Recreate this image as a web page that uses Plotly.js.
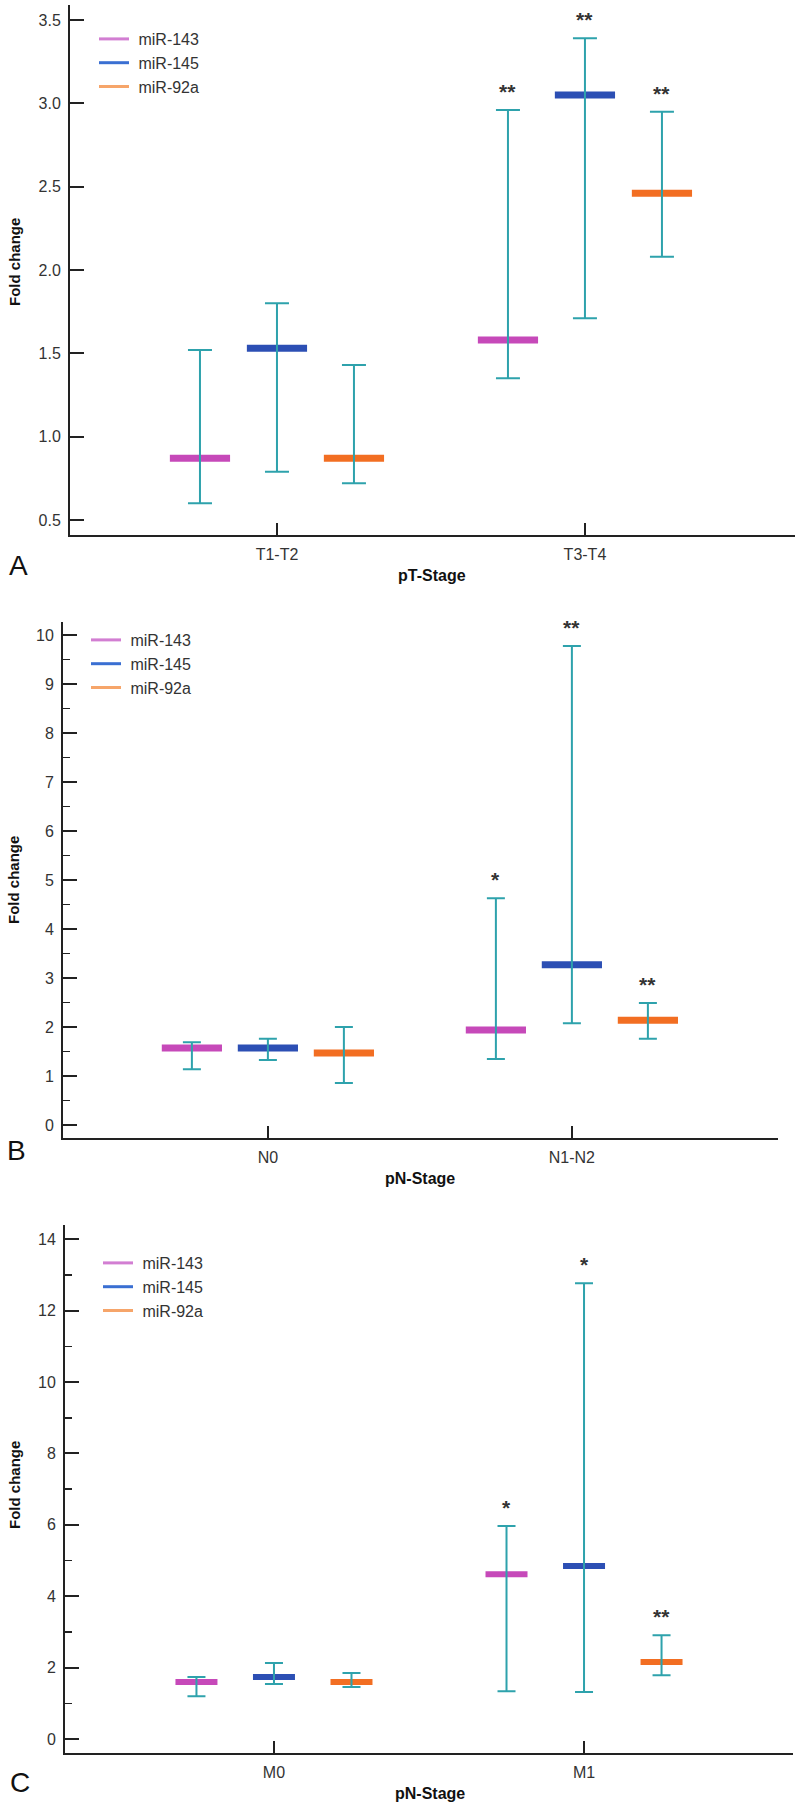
<!DOCTYPE html>
<html>
<head>
<meta charset="utf-8">
<script src="https://cdn.plot.ly/plotly-3.0.1.min.js"></script>
<style>html,body{margin:0;padding:0;background:#fff;}#chart{width:800px;height:1808px;}</style>
</head>
<body>
<div id="chart"></div>
<script>
// ---------- DATA ----------
const seriesNames = ['miR-143', 'miR-145', 'miR-92a'];

const categoriesA = ['T1-T2', 'T3-T4'];
const medianA = [[0.87, 1.58], [1.53, 3.05], [0.87, 2.46]];
const lowA    = [[0.60, 1.35], [0.79, 1.71], [0.72, 2.08]];
const highA   = [[1.52, 2.96], [1.80, 3.39], [1.43, 2.95]];
const sigA    = [['', '**'], ['', '**'], ['', '**']];

const categoriesB = ['N0', 'N1-N2'];
const medianB = [[1.57, 1.94], [1.57, 3.27], [1.47, 2.14]];
const lowB    = [[1.14, 1.35], [1.33, 2.08], [0.86, 1.76]];
const highB   = [[1.69, 4.63], [1.76, 9.78], [2.00, 2.49]];
const sigB    = [['', '*'], ['', '**'], ['', '**']];

const categoriesC = ['M0', 'M1'];
const medianC = [[1.60, 4.62], [1.74, 4.85], [1.60, 2.16]];
const lowC    = [[1.20, 1.34], [1.54, 1.32], [1.46, 1.79]];
const highC   = [[1.74, 5.97], [2.13, 12.77], [1.85, 2.91]];
const sigC    = [['', '*'], ['', '*'], ['', '**']];

// ---------- STYLE ----------
const barColors = ['#c649b9', '#2c4fb4', '#f26e22'];
const legendColors = ['#d27ed2', '#3a6fd2', '#f6a56a'];
const whiskerColor = '#2ea2ac';
const offsets = [-0.25, 0, 0.25];
const H = 1808, W = 800;
const FONT = 'Liberation Sans, Arial, sans-serif';

const panels = [
  {cats: categoriesA, med: medianA, low: lowA, high: highA, sig: sigA, xa: 'x', ya: 'y', legend: 'legend', barW: 43, barT: 7, capW: 12},
  {cats: categoriesB, med: medianB, low: lowB, high: highB, sig: sigB, xa: 'x2', ya: 'y2', legend: 'legend2', barW: 43, barT: 7, capW: 9},
  {cats: categoriesC, med: medianC, low: lowC, high: highC, sig: sigC, xa: 'x3', ya: 'y3', legend: 'legend3', barW: 30, barT: 6, capW: 9}
];

const traces = [];
const annotations = [];

panels.forEach(p => {
  seriesNames.forEach((name, s) => {
    traces.push({
      x: [null], y: [null], type: 'scatter', mode: 'lines', name: '\u00a0' + name,
      line: {color: legendColors[s], width: 3},
      xaxis: p.xa, yaxis: p.ya, legend: p.legend, hoverinfo: 'skip'
    });
  });
  seriesNames.forEach((name, s) => {
    traces.push({
      x: p.cats.map((c, i) => i + offsets[s]),
      y: p.med[s], type: 'scatter', mode: 'markers', showlegend: false,
      marker: {symbol: 'line-ew', size: p.barW, line: {width: p.barT, color: barColors[s]}},
      xaxis: p.xa, yaxis: p.ya, hoverinfo: 'skip'
    });
  });
  seriesNames.forEach((name, s) => {
    traces.push({
      x: p.cats.map((c, i) => i + offsets[s]),
      y: p.med[s], type: 'scatter', mode: 'markers', showlegend: false,
      marker: {size: 1, color: 'rgba(0,0,0,0)'},
      error_y: {
        type: 'data', symmetric: false,
        array: p.high[s].map((h, i) => h - p.med[s][i]),
        arrayminus: p.low[s].map((l, i) => p.med[s][i] - l),
        color: whiskerColor, thickness: 2, width: p.capW
      },
      xaxis: p.xa, yaxis: p.ya, hoverinfo: 'skip'
    });
    p.cats.forEach((c, i) => {
      if (p.sig[s][i]) {
        annotations.push({
          x: i + offsets[s], y: p.high[s][i], xref: p.xa, yref: p.ya,
          text: p.sig[s][i], showarrow: false, xanchor: 'center', yanchor: 'bottom', yshift: 5,
          font: {family: FONT, size: 21, color: '#333', weight: 'bold'}
        });
      }
    });
  });
});

function py(px) { return (H - px) / H; }
function pxx(px) { return px / W; }

function yAxisCommon(extra) {
  return Object.assign({
    showline: true, linecolor: '#222', linewidth: 2, mirror: false,
    showgrid: false, zeroline: false,
    ticks: 'inside', ticklen: 14, tickwidth: 2, tickcolor: '#222',
    tickfont: {family: FONT, size: 16, color: '#333'}, ticklabelstandoff: 4
  }, extra);
}
function xAxisCommon(extra) {
  return Object.assign({
    showline: true, linecolor: '#222', linewidth: 2, mirror: false,
    showgrid: false, zeroline: false,
    ticks: 'inside', ticklen: 12, tickwidth: 2, tickcolor: '#222',
    tickfont: {family: FONT, size: 16, color: '#333'}, ticklabelstandoff: 4
  }, extra);
}

function label(text, x, y, size, bold, angle) {
  return {text: text, x: pxx(x), y: py(y), xref: 'paper', yref: 'paper', showarrow: false,
    xanchor: 'center', yanchor: 'middle', textangle: angle || 0,
    font: {family: FONT, size: size, color: '#111', weight: bold ? 'bold' : 'normal'}};
}

const legendCommon = {xanchor: 'left', yanchor: 'top', bgcolor: 'rgba(0,0,0,0)',
  font: {family: FONT, size: 16, color: '#333'}, tracegroupgap: 0};

const layout = {
  width: W, height: H,
  margin: {l: 0, r: 0, t: 0, b: 0},
  paper_bgcolor: '#fff', plot_bgcolor: '#fff',
  showlegend: true,
  font: {family: FONT},
  xaxis: xAxisCommon({domain: [pxx(70), pxx(795)], range: [-0.672, 1.682], anchor: 'y',
    tickvals: categoriesA.map((c, i) => i), ticktext: categoriesA}),
  yaxis: yAxisCommon({domain: [py(535), py(5)], range: [0.41, 3.59], anchor: 'x',
    tick0: 0.5, dtick: 0.5, tickformat: '.1f'}),
  xaxis2: xAxisCommon({domain: [pxx(63), pxx(778)], range: [-0.674, 1.678], anchor: 'y2',
    tickvals: categoriesB.map((c, i) => i), ticktext: categoriesB}),
  yaxis2: yAxisCommon({domain: [py(1138), py(622)], range: [-0.265, 10.27], anchor: 'x2',
    tick0: 0, dtick: 1,
    minor: {ticks: 'inside', ticklen: 7, tickwidth: 1.5, tickcolor: '#222', dtick: 0.5, tick0: 0, showgrid: false}}),
  xaxis3: xAxisCommon({domain: [pxx(65), pxx(793)], range: [-0.674, 1.674], anchor: 'y3',
    tickvals: categoriesC.map((c, i) => i), ticktext: categoriesC}),
  yaxis3: yAxisCommon({domain: [py(1753), py(1225)], range: [-0.39, 14.4], anchor: 'x3',
    tick0: 0, dtick: 2,
    minor: {ticks: 'inside', ticklen: 7, tickwidth: 1.5, tickcolor: '#222', dtick: 1, tick0: 0, showgrid: false}}),
  legend: Object.assign({x: pxx(94), y: py(22)}, legendCommon),
  legend2: Object.assign({x: pxx(86), y: py(623)}, legendCommon),
  legend3: Object.assign({x: pxx(98), y: py(1246)}, legendCommon),
  annotations: annotations.concat([
    label('A', 18, 565, 28, false),
    label('B', 16, 1150, 28, false),
    label('C', 20, 1782, 28, false),
    label('pT-Stage', 432, 575, 16, true),
    label('pN-Stage', 420, 1178, 16, true),
    label('pN-Stage', 430, 1793, 16, true),
    label('Fold change', 15, 262, 15, true, -90),
    label('Fold change', 13, 880, 15, true, -90),
    label('Fold change', 14, 1485, 15, true, -90)
  ])
};

Plotly.newPlot('chart', traces, layout, {staticPlot: true, displayModeBar: false});
</script>
</body>
</html>
